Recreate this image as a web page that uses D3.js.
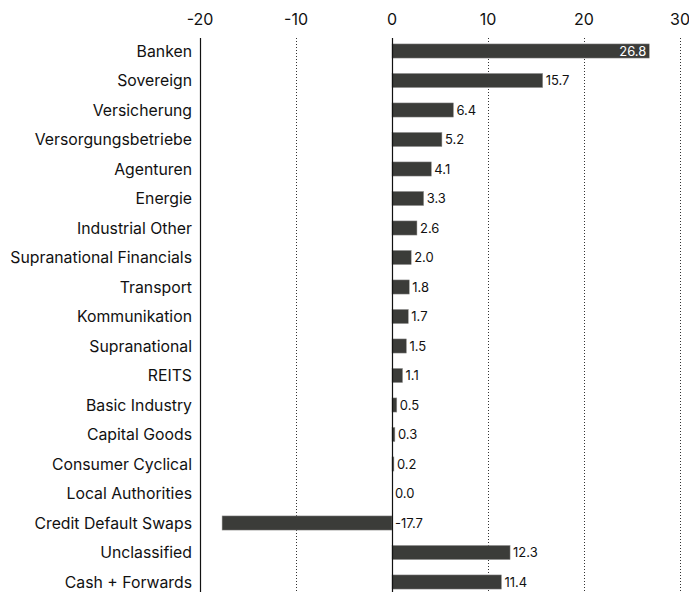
<!DOCTYPE html>
<html>
<head>
<meta charset="utf-8">
<script src="https://cdn.jsdelivr.net/npm/d3@7"></script>
<style>
  body { margin: 0; background: #fff; }
  svg { font-family: Inter, "Noto Sans", sans-serif; }
</style>
</head>
<body>
<svg id="chart" width="689" height="592"></svg>
<script>
// sector names, top to bottom
var sectors = ["Banken", "Sovereign", "Versicherung", "Versorgungsbetriebe", "Agenturen",
  "Energie", "Industrial Other", "Supranational Financials", "Transport", "Kommunikation",
  "Supranational", "REITS", "Basic Industry", "Capital Goods", "Consumer Cyclical",
  "Local Authorities", "Credit Default Swaps", "Unclassified", "Cash + Forwards"];
var weights = [26.8, 15.7, 6.4, 5.2, 4.1, 3.3, 2.6, 2.0, 1.8, 1.7, 1.5, 1.1, 0.5, 0.3, 0.2,
  0.0, -17.7, 12.3, 11.4];
var tickValues = [-20, -10, 0, 10, 20, 30];

var svg = d3.select("#chart");
var x = d3.scaleLinear().domain([-20, 30]).range([200, 680]);
var y = d3.scaleBand().domain(sectors).range([36.25, 596.75]).paddingInner(0.52).paddingOuter(0.26);

var lineTop = 38, lineBottom = 592;

// dotted grid lines
svg.selectAll(".grid").data(tickValues.filter(function(d) { return d != 0 && d != -20; }))
  .enter().append("line")
  .attr("x1", function(d) { return Math.round(x(d)) + 0.5; })
  .attr("x2", function(d) { return Math.round(x(d)) + 0.5; })
  .attr("y1", lineTop).attr("y2", lineBottom)
  .attr("stroke", "#333").attr("stroke-width", 1)
  .attr("stroke-dasharray", "1,2");

// tick labels on top
svg.selectAll(".tick").data(tickValues).enter().append("text")
  .attr("x", function(d) { return x(d); })
  .attr("y", 25)
  .attr("text-anchor", "middle")
  .attr("font-size", 16)
  .attr("fill", "#111")
  .text(function(d) { return d; });

// bars
svg.selectAll(".bar").data(weights).enter().append("rect")
  .attr("x", function(d) { return x(Math.min(0, d)); })
  .attr("y", function(d, i) { return y(sectors[i]); })
  .attr("width", function(d) { return Math.abs(x(d) - x(0)); })
  .attr("height", y.bandwidth())
  .attr("fill", "#3b3c39")
  .attr("stroke", "#9a9a98").attr("stroke-width", 0.5);

// solid axis lines: left edge and zero
[x(-20), x(0)].forEach(function(px) {
  svg.append("line")
    .attr("x1", Math.round(px) + 0.5).attr("x2", Math.round(px) + 0.5)
    .attr("y1", lineTop).attr("y2", lineBottom)
    .attr("stroke", "#111").attr("stroke-width", 1.2);
});

// category labels
svg.selectAll(".cat").data(sectors).enter().append("text")
  .attr("x", 192)
  .attr("y", function(d) { return y(d) + y.bandwidth() / 2; })
  .attr("dy", "0.35em")
  .attr("text-anchor", "end")
  .attr("font-size", 15.8)
  .attr("fill", "#111")
  .text(function(d) { return d; });

// value labels
svg.selectAll(".val").data(weights).enter().append("text")
  .attr("x", function(d) {
    if (d > 25) return x(d) - 3;
    return x(Math.max(0, d)) + 3;
  })
  .attr("y", function(d, i) { return y(sectors[i]) + y.bandwidth() / 2; })
  .attr("dy", "0.36em")
  .attr("text-anchor", function(d) { return d > 25 ? "end" : "start"; })
  .attr("font-size", 13)
  .attr("fill", function(d) { return d > 25 ? "#fff" : "#111"; })
  .text(function(d) { return d.toFixed(1); });
</script>
</body>
</html>
